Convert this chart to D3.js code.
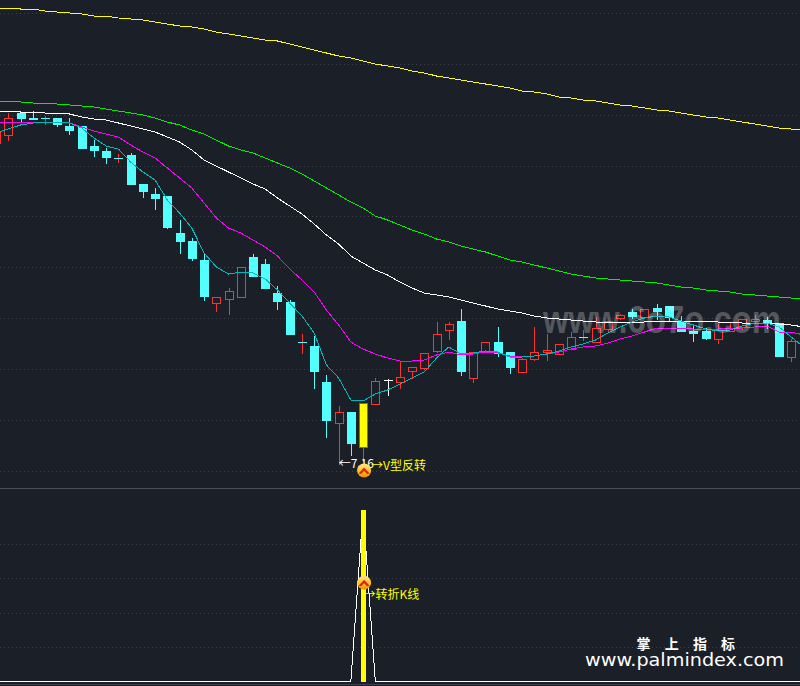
<!DOCTYPE html>
<html><head><meta charset="utf-8">
<script src="https://cdn.jsdelivr.net/npm/d3@7"></script>
<style>html,body{margin:0;padding:0;background:#1b1f28;overflow:hidden}svg{display:block}</style>
</head><body><div id="c"></div>
<script>
const candleIdx = d3.range(-1, 66);
const opens = [10.38,10.46,10.68,10.63,10.63,10.63,10.55,10.55,10.35,10.30,
10.23,10.26,9.97,9.87,9.85,9.48,9.40,9.21,8.78,8.82,
8.84,9.24,9.17,8.88,8.79,8.39,8.35,7.99,7.58,7.69,
7.34,7.77,8.01,7.99,8.10,8.13,8.30,8.51,8.60,8.03,
8.29,8.39,8.29,8.09,8.22,8.29,8.27,8.32,8.44,8.39,
8.52,8.63,8.69,8.64,8.73,8.75,8.60,8.50,8.50,8.42,
8.50,8.54,8.60,8.61,8.58,8.24,8.33];
const closes = [10.49,10.63,10.63,10.62,10.63,10.57,10.51,10.33,10.31,10.24,
10.23,9.97,9.90,9.83,9.54,9.40,9.23,8.85,8.84,8.90,
9.14,9.05,8.93,8.80,8.47,8.39,8.10,7.61,7.69,7.38,
7.78,8.00,8.01,8.04,8.14,8.28,8.47,8.57,8.10,8.29,
8.39,8.28,8.14,8.22,8.29,8.31,8.37,8.44,8.44,8.53,
8.60,8.66,8.65,8.72,8.70,8.64,8.50,8.48,8.43,8.51,
8.53,8.62,8.62,8.58,8.25,8.40,8.23];
const highs = [10.56,10.68,10.68,10.70,10.65,10.63,10.63,10.55,10.41,10.33,
10.27,10.28,9.97,9.93,9.85,9.61,9.43,9.27,8.84,8.93,
9.14,9.27,9.22,8.95,8.81,8.47,8.45,8.06,7.75,7.69,
7.78,8.03,8.02,8.20,8.14,8.28,8.59,8.59,8.72,8.29,
8.39,8.54,8.29,8.23,8.54,8.47,8.37,8.49,8.51,8.64,
8.60,8.67,8.72,8.72,8.77,8.75,8.65,8.56,8.53,8.57,
8.59,8.62,8.66,8.64,8.58,8.42,8.36];
const lows = [10.31,10.40,10.59,10.62,10.56,10.54,10.46,10.33,10.24,10.17,
10.18,9.97,9.83,9.71,9.52,9.27,9.20,8.80,8.69,8.66,
8.84,9.04,8.93,8.71,8.47,8.27,7.92,7.43,7.16,7.25,
7.19,7.77,7.85,7.92,8.02,8.11,8.28,8.41,8.05,7.98,
8.29,8.24,8.07,8.08,8.20,8.20,8.27,8.32,8.40,8.38,
8.48,8.61,8.62,8.62,8.61,8.60,8.50,8.39,8.41,8.37,
8.50,8.51,8.57,8.52,8.25,8.19,8.23];
const maTeal = [10.48,10.52,10.56,10.58,10.59,10.59,10.58,10.53,10.43,10.35,
10.32,10.19,10.09,10.01,9.81,9.68,9.53,9.28,9.14,9.07,
9.09,9.08,9.02,8.91,8.78,8.65,8.48,8.16,8.03,7.81,
7.80,7.87,7.91,7.97,8.03,8.09,8.23,8.34,8.27,8.28,
8.30,8.29,8.24,8.24,8.25,8.27,8.30,8.34,8.37,8.41,
8.48,8.54,8.59,8.63,8.65,8.64,8.60,8.56,8.52,8.50,
8.51,8.55,8.58,8.58,8.54,8.44,8.34];
const maMagenta = [10.58,10.59,10.58,10.59,10.59,10.59,10.58,10.54,10.50,10.47,
10.44,10.36,10.29,10.23,10.13,10.03,9.93,9.78,9.63,9.53,
9.48,9.41,9.34,9.25,9.12,9.01,8.89,8.71,8.56,8.39,
8.32,8.27,8.23,8.20,8.20,8.21,8.26,8.29,8.26,8.27,
8.29,8.28,8.25,8.25,8.25,8.27,8.29,8.32,8.34,8.35,
8.38,8.42,8.45,8.49,8.53,8.53,8.53,8.52,8.52,8.52,
8.53,8.53,8.54,8.55,8.49,8.49,8.46];
const maWhite = [10.70,10.70,10.69,10.69,10.68,10.68,10.67,10.64,10.62,10.61,
10.58,10.55,10.52,10.49,10.44,10.39,10.31,10.21,10.15,10.09,
10.03,9.97,9.92,9.83,9.75,9.67,9.57,9.46,9.37,9.25,
9.18,9.11,9.06,8.99,8.93,8.88,8.86,8.84,8.81,8.78,
8.75,8.72,8.70,8.68,8.65,8.63,8.62,8.61,8.60,8.59,
8.59,8.59,8.59,8.59,8.60,8.60,8.60,8.60,8.60,8.59,
8.59,8.58,8.58,8.58,8.57,8.56,8.54];
const maGreen = [10.80,10.80,10.79,10.78,10.78,10.77,10.76,10.75,10.74,10.72,
10.70,10.68,10.66,10.63,10.59,10.56,10.51,10.47,10.41,10.35,
10.31,10.28,10.23,10.18,10.13,10.07,10.00,9.93,9.86,9.79,
9.73,9.65,9.61,9.56,9.51,9.47,9.42,9.39,9.35,9.32,
9.29,9.25,9.21,9.19,9.16,9.13,9.10,9.07,9.05,9.03,
9.02,9.01,9.00,8.99,8.98,8.96,8.94,8.93,8.91,8.90,
8.89,8.87,8.86,8.85,8.84,8.83,8.82];
const maYellow = [11.73,11.73,11.72,11.72,11.70,11.69,11.68,11.67,11.65,11.65,
11.63,11.62,11.61,11.59,11.57,11.55,11.54,11.52,11.49,11.47,
11.45,11.43,11.41,11.40,11.37,11.34,11.31,11.28,11.25,11.23,
11.20,11.17,11.15,11.13,11.10,11.08,11.05,11.03,11.01,10.99,
10.97,10.95,10.93,10.90,10.89,10.87,10.84,10.83,10.81,10.80,
10.78,10.76,10.75,10.73,10.71,10.70,10.68,10.66,10.64,10.63,
10.61,10.59,10.57,10.55,10.53,10.52,10.51];
const priceGrid = [11.68,11.17,10.66,10.15,9.65,9.14,8.63,8.12,7.61,7.10];
const signalGrid = [20,40,60,80];
const signalIdx = 29, whiteIdx = 31, lowIdx = 27;
const lowLabel = "←7.16", patternLabel = "→V型反转", signalLabel = "→转折K线";
const brandCn = "掌上指标", brandUrl = "www.palmindex.com", watermark = "www.6o7o.com";

const BG = "#1b1f28", RED = "#ff3232", CYAN = "#54ffff";
const W = 800, H = 686;
const x = d3.scaleLinear().domain([0, 64]).range([8.3, 791.3]);
const y = d3.scaleLinear().domain([11.81, 6.93]).range([0, 488]);
const y2 = d3.scaleLinear().domain([0, 100]).range([681, 510]);

const svg = d3.select("#c").append("svg").attr("width", W).attr("height", H).attr("viewBox", `0 0 ${W} ${H}`);
svg.append("rect").attr("width", W).attr("height", H).attr("fill", BG);

const defs = svg.append("defs");
const grad = defs.append("linearGradient").attr("id", "ball").attr("x1", 0).attr("x2", 0).attr("y1", 0).attr("y2", 1);
grad.append("stop").attr("offset", "0%").attr("stop-color", "#ffe98a");
grad.append("stop").attr("offset", "55%").attr("stop-color", "#ffc21f");
grad.append("stop").attr("offset", "100%").attr("stop-color", "#f08a10");

const gridDots = (vals, sc) => svg.append("g").selectAll("line").data(vals).join("line")
  .attr("x1", 0).attr("x2", W).attr("y1", d => Math.round(sc(d)) + .5).attr("y2", d => Math.round(sc(d)) + .5)
  .attr("stroke", "#3f424b").attr("stroke-width", 1).attr("stroke-dasharray", "1 3");
gridDots(priceGrid, y);
gridDots(signalGrid, y2);

svg.append("line").attr("x1", 0).attr("x2", W).attr("y1", 488.5).attr("y2", 488.5).attr("stroke", "#4b4f58");
svg.append("line").attr("x1", 0).attr("x2", W).attr("y1", 684.5).attr("y2", 684.5).attr("stroke", "#39414e");

const candles = candleIdx.map((i, k) => ({ i, o: opens[k], c: closes[k], h: highs[k], l: lows[k] }));
const colorOf = d => d.i === whiteIdx ? "#ffffff" : (d.i === signalIdx ? RED : (d.c >= d.o ? RED : CYAN));
const g = svg.append("g").attr("shape-rendering", "crispEdges");
const cx = d => Math.round(x(d.i)) + .5;
g.selectAll("line.w").data(candles).join("line").attr("class", "w")
  .attr("x1", cx).attr("x2", cx).attr("y1", d => y(d.h)).attr("y2", d => y(d.l))
  .attr("stroke", colorOf);
g.selectAll("rect.b").data(candles.filter(d => d.o !== d.c)).join("rect").attr("class", "b")
  .attr("x", d => cx(d) - 4).attr("width", 8)
  .attr("y", d => Math.round(y(Math.max(d.o, d.c))) + .5)
  .attr("height", d => Math.max(1, Math.round(y(Math.min(d.o, d.c))) - Math.round(y(Math.max(d.o, d.c)))))
  .attr("fill", d => d.i === signalIdx ? "#ffff00" : (d.c >= d.o ? BG : CYAN))
  .attr("stroke", colorOf);
g.selectAll("line.d").data(candles.filter(d => d.o === d.c)).join("line").attr("class", "d")
  .attr("x1", d => cx(d) - 4.5).attr("x2", d => cx(d) + 4.5)
  .attr("y1", d => Math.round(y(d.c)) + .5).attr("y2", d => Math.round(y(d.c)) + .5)
  .attr("stroke", d => d.i === whiteIdx ? "#ffffff" : CYAN);

const maLine = d3.line().x((d, k) => x(candleIdx[k])).y(d => y(d));
[[maYellow, "#ffff00"], [maGreen, "#00f000"], [maWhite, "#ffffff"], [maMagenta, "#ff00ff"], [maTeal, "#00b8b8"]].forEach(([s, col]) => {
  svg.append("path").attr("d", maLine(s)).attr("fill", "none").attr("stroke", col).attr("stroke-width", 1).attr("shape-rendering", "crispEdges");
});

const cn = '"Noto Sans CJK SC","Noto Sans",sans-serif';
svg.append("text").attr("x", x(lowIdx)).attr("y", y(7.16) + 2.5).attr("font-family", cn).attr("font-size", 12).attr("fill", "#ffffff").text(lowLabel);
svg.append("text").attr("x", x(signalIdx) + 8).attr("y", y(7.16) + 5).attr("font-family", cn).attr("font-size", 12).attr("fill", "#ffff00").text(patternLabel);

const sig = candleIdx.map(i => i === signalIdx ? 100 : 0);
svg.append("path").attr("d", d3.line().x((d, k) => x(candleIdx[k])).y(d => y2(d))(sig))
  .attr("fill", "none").attr("stroke", "#ffffff").attr("stroke-width", 1).attr("shape-rendering", "crispEdges");
svg.append("rect").attr("x", Math.round(x(signalIdx)) - 2).attr("width", 5)
  .attr("y", y2(100)).attr("height", y2(0) - y2(100) + 1).attr("fill", "#ffff00").attr("shape-rendering", "crispEdges");
svg.append("text").attr("x", x(signalIdx) + 0.5).attr("y", y2(48)).attr("font-family", cn).attr("font-size", 12).attr("fill", "#ffff00").text(signalLabel);

function badge(px, py) {
  const b = svg.append("g").attr("transform", `translate(${px},${py})`);
  b.append("circle").attr("r", 7).attr("fill", "url(#ball)");
  b.append("path").attr("d", "M-5.5,3 L0,-3 L5.5,3 L3,3.5 L0,0.5 L-3,3.5 Z").attr("fill", "#d92a10");
}
badge(x(signalIdx) + 1, y(7.16) + 5.5);
badge(x(signalIdx) + 1, y2(57.5));

svg.append("text").attr("x", 543).attr("y", y(8.48)).attr("font-family", '"Liberation Sans",sans-serif')
  .attr("font-size", 38).attr("font-weight", 700).attr("textLength", 238).attr("lengthAdjust", "spacingAndGlyphs")
  .attr("fill", "#ffffff").attr("fill-opacity", .25).text(watermark);

svg.append("text").attr("x", 636.5).attr("y", 649).attr("font-family", cn).attr("font-size", 14).attr("font-weight", 700)
  .attr("letter-spacing", 14.2).attr("fill", "#ffffff").text(brandCn);
svg.append("text").attr("x", 585).attr("y", 666).attr("font-family", '"DejaVu Sans",sans-serif').attr("font-size", 18)
  .attr("textLength", 199).attr("lengthAdjust", "spacingAndGlyphs").attr("fill", "#ffffff").text(brandUrl);
</script></body></html>
